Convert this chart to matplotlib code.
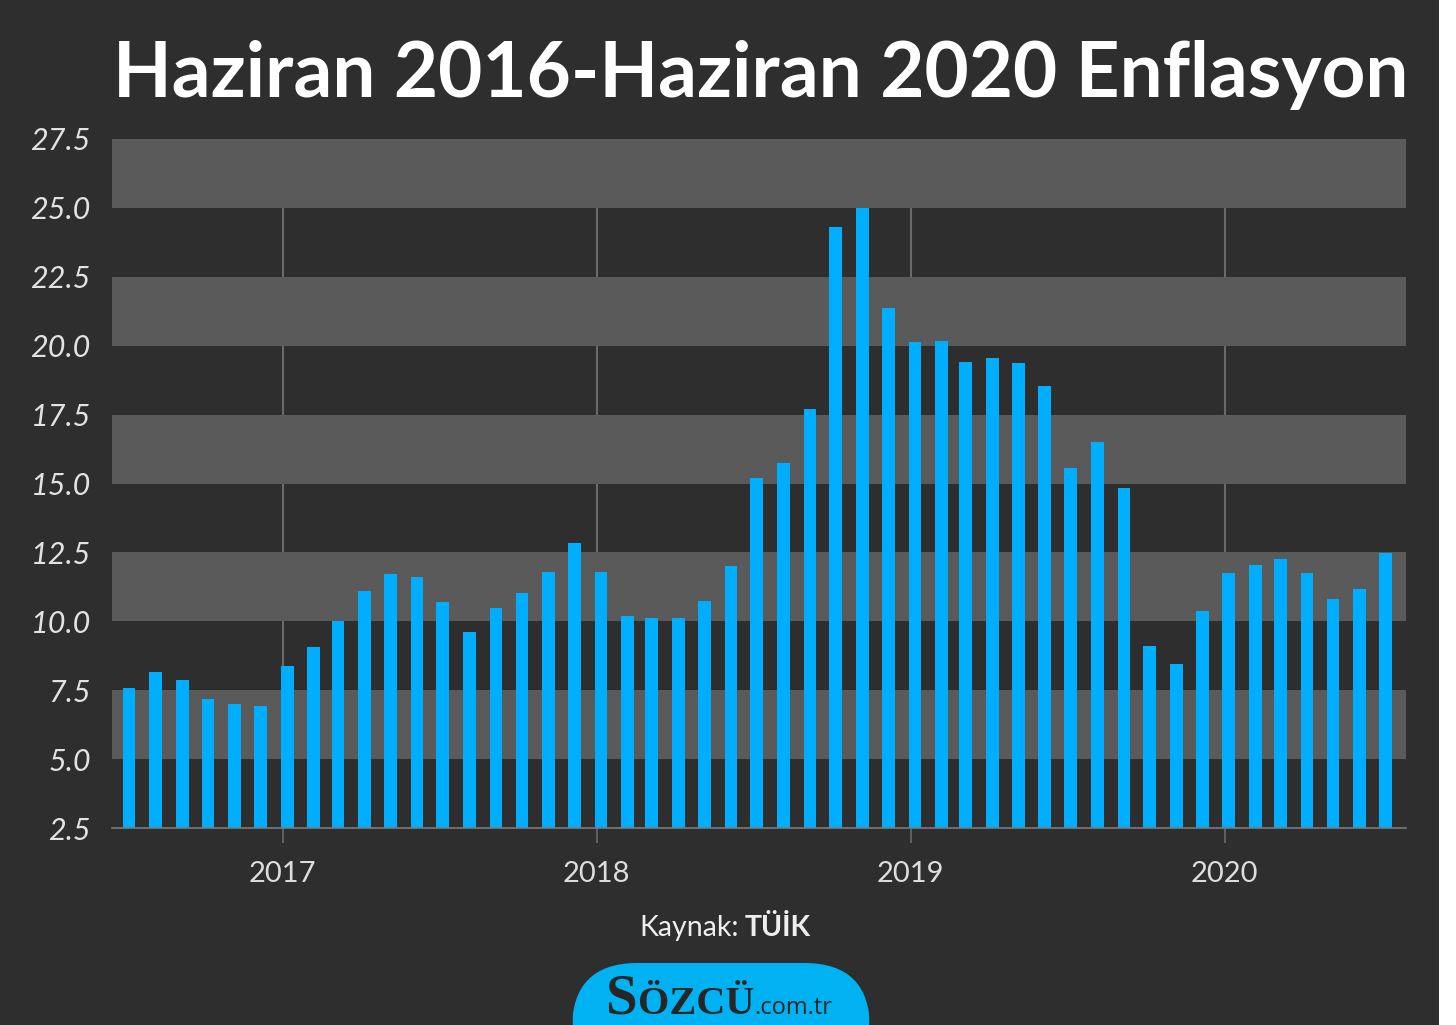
import numpy as np
import pandas as pd
import matplotlib.pyplot as plt
from matplotlib.patches import FancyBboxPatch, Rectangle

# Annual CPI inflation (%), June 2016 - June 2020
months = pd.date_range('2016-07-01', periods=49, freq='MS') + pd.Timedelta(days=5)
inflation = [7.57, 8.17, 7.87, 7.18, 6.99, 6.93,
             8.39, 9.07, 10.01, 11.11, 11.72, 11.62, 10.70, 9.62, 10.49, 11.04, 11.78, 12.84,
             11.78, 10.19, 10.11, 10.11, 10.75, 12.02, 15.19, 15.73, 17.70, 24.32, 25.01, 21.37,
             20.12, 20.16, 19.42, 19.54, 19.36, 18.55, 15.55, 16.52, 14.85, 9.10, 8.44, 10.37,
             11.74, 12.03, 12.25, 11.74, 10.82, 11.16, 12.49]
years = ['2017', '2018', '2019', '2020']
y_ticks = [2.5, 5.0, 7.5, 10.0, 12.5, 15.0, 17.5, 20.0, 22.5, 25.0, 27.5]

bg = '#2e2e2e'
band = '#5a5a5a'
blue = '#00aeff'

fig = plt.figure(figsize=(14.56, 10.25), dpi=100, facecolor=bg)
W, H = 1456, 1025
ax = fig.add_axes([111.7 / W, 1 - 828 / H, (1406 - 111.7) / W, (828 - 139) / H])
ax.set_facecolor(bg)

# alternating horizontal bands
for lo in [5.0, 10.0, 15.0, 20.0, 25.0]:
    ax.axhspan(lo, lo + 2.5, color=band, zorder=1, lw=0)

year_dates = [pd.Timestamp(y + '-01-01') for y in years]
for d in year_dates:
    ax.axvline(d, color='#6a6a6a', lw=1.5, zorder=0.5)

ax.bar(months, inflation, width=14.8, color=blue, zorder=3, align='center')

ax.set_xlim(pd.Timestamp('2016-06-16'), pd.Timestamp('2020-07-30'))
ax.set_ylim(2.5, 27.5)
ax.set_yticks(y_ticks)
ax.set_yticklabels([f'{v:.1f}' for v in y_ticks], fontfamily='Lato', fontstyle='italic',
                   fontsize=22, color='#e2e2e2')
ax.tick_params(axis='y', length=0, pad=15)
ax.set_xticks(year_dates)
ax.set_xticklabels(years, fontfamily='Lato', fontsize=21, color='#dddddd')
ax.tick_params(axis='x', length=11, width=1.2, color='#6a6a6a', pad=13)

for s in ['top', 'right', 'left']:
    ax.spines[s].set_visible(False)
ax.spines['bottom'].set_color('#7a7a7a')
ax.spines['bottom'].set_linewidth(1.2)
ax.spines['bottom'].set_zorder(4)

fig.text(0.5227, 1 - 75 / H, 'Haziran 2016-Haziran 2020 Enflasyon', ha='center', va='center',
         fontfamily='Lato', fontweight='bold', fontsize=55, color='white')

# source line
fig.text(739 / W, 1 - 928 / H, 'Kaynak:', ha='right', va='center', fontfamily='Lato',
         fontsize=20.5, color='#eeeeee')
fig.text(745 / W, 1 - 928 / H, 'TÜİK', ha='left', va='center', fontfamily='Lato',
         fontweight='bold', fontsize=20.5, color='#eeeeee')

# logo
logo = FancyBboxPatch((572 / W, -0.05), (870 - 572) / W, (1025 - 963) / H + 0.05,
                      boxstyle='round,pad=0,rounding_size=0.045', transform=fig.transFigure,
                      facecolor='#00b2f2', edgecolor='none', mutation_aspect=W / H)
fig.patches.append(logo)

renderer = fig.canvas.get_renderer()
x = 606
base = 1 - 1014 / H
for txt, fam, size, weight in [('S', 'Liberation Serif', 41, 'bold'),
                               ('ÖZCÜ', 'Liberation Serif', 29, 'bold'),
                               ('.com.tr', 'Open Sans', 17, 'normal')]:
    t = fig.text(x / W, base, txt, ha='left', va='baseline', fontfamily=fam,
                 fontweight=weight, fontsize=size, color='#262626')
    x = t.get_window_extent(renderer).x1

# white strip on the right edge
fig.patches.append(Rectangle((1439 / W, 0), 17 / W, 1, transform=fig.transFigure,
                             facecolor='white', edgecolor='none'))

fig.savefig('out.png', dpi=100, facecolor=bg)
